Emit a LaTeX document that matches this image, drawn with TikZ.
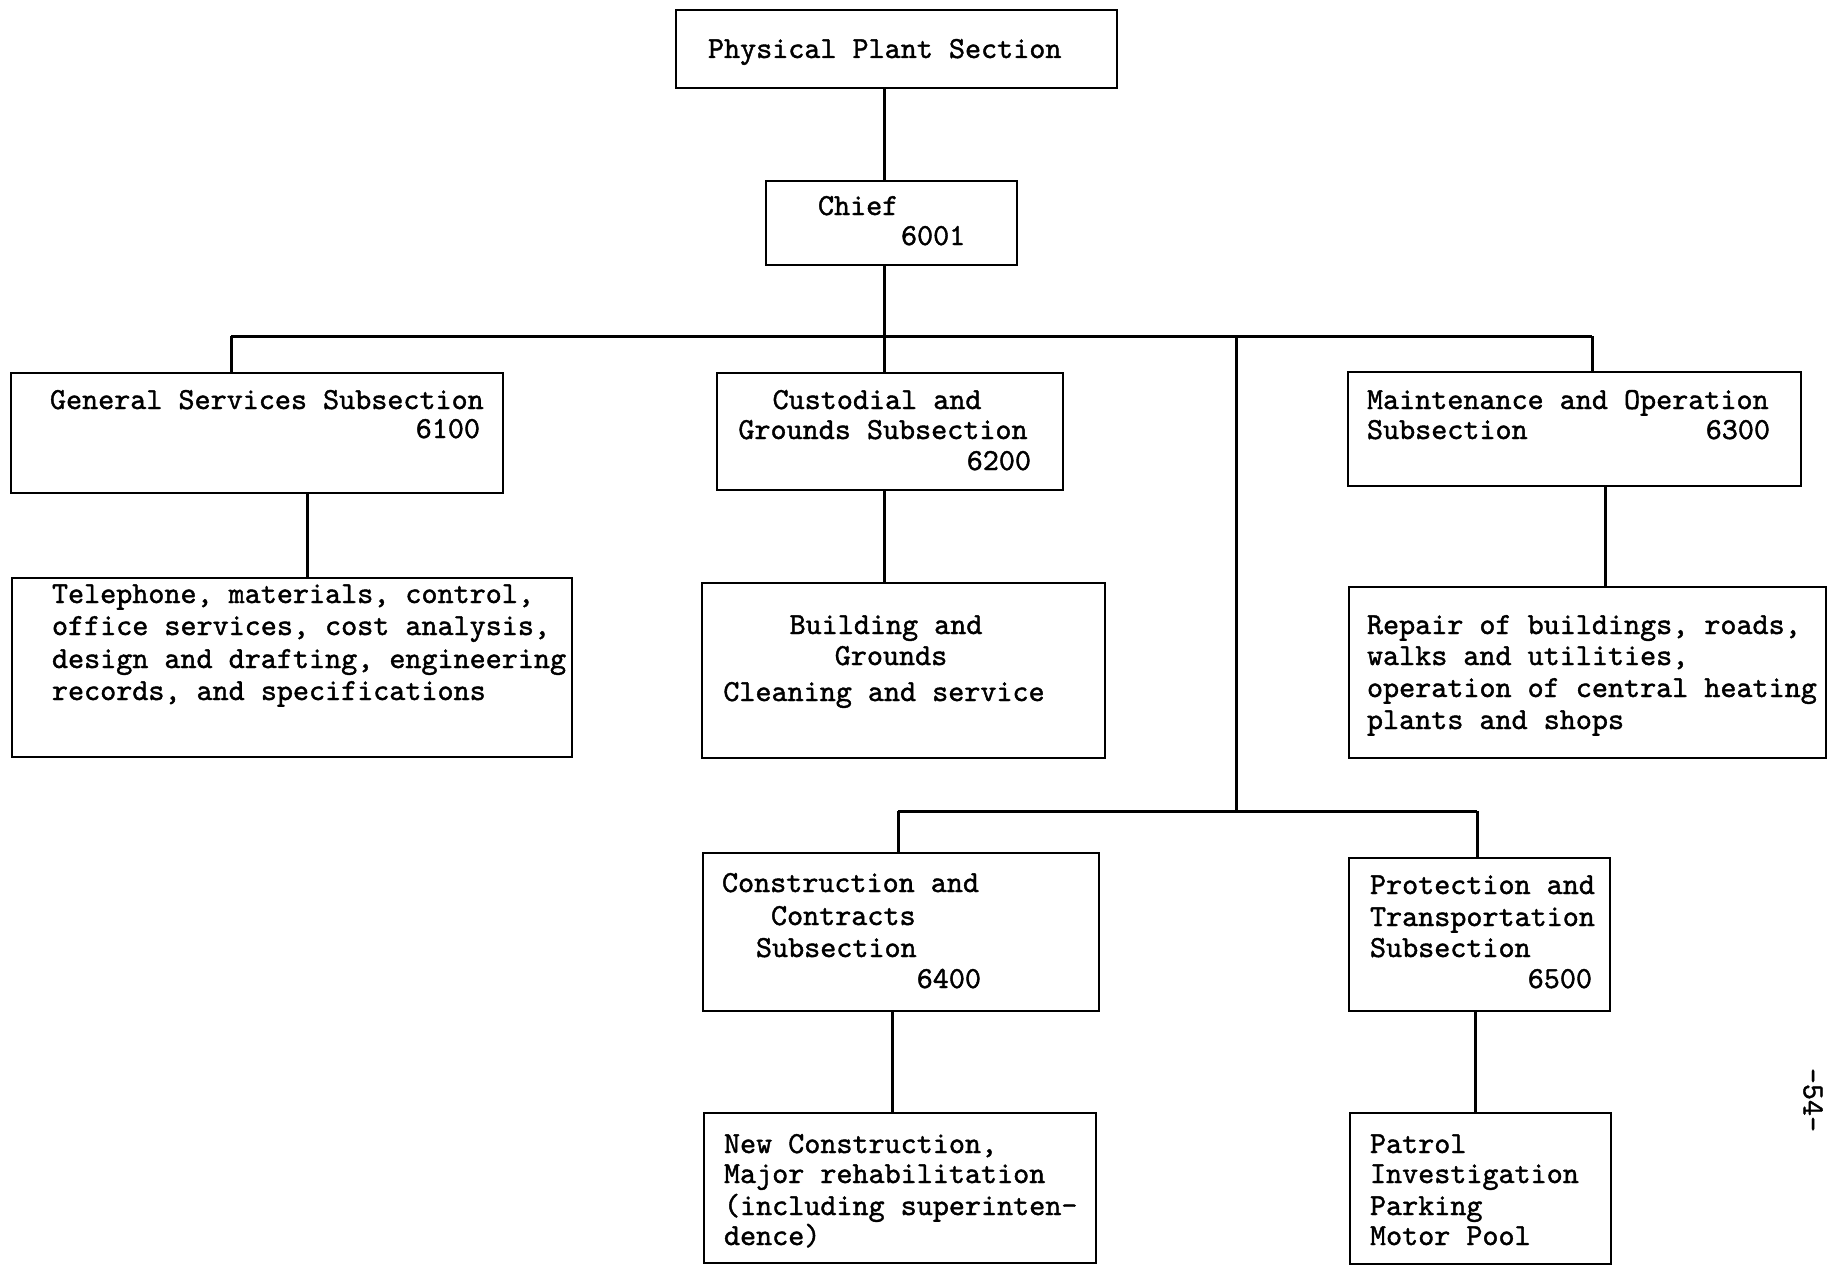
\documentclass[tikz,border=0pt]{standalone}
\usepackage{fontspec}
\newfontfamily\tw[FakeBold=1.3]{lmmono10-regular.otf}
\begin{document}
\begin{tikzpicture}[x=1pt,y=-1pt,
  box/.style={draw, line width=2.8pt, rectangle, inner sep=0pt, outer sep=0pt, anchor=north west},
  txt/.style={inner sep=0pt, outer sep=0pt, font=\tw\fontsize{30.6pt}{32pt}\selectfont},
  link/.style={line width=3pt}]
\useasboundingbox (0,0) rectangle (1828,1268);
\fill[white] (0,0) rectangle (1828,1268);

% boxes
\node[box, minimum width=441pt, minimum height=78pt]  (pps)   at (676,10)   {};
\node[box, minimum width=251pt, minimum height=84pt]  (chief) at (766,181)  {};
\node[box, minimum width=492pt, minimum height=120pt] (gen)   at (11,373)   {};
\node[box, minimum width=560pt, minimum height=179pt] (tel)   at (12,578)   {};
\node[box, minimum width=346pt, minimum height=117pt] (cus)   at (717,373)  {};
\node[box, minimum width=403pt, minimum height=175pt] (bld)   at (702,583)  {};
\node[box, minimum width=453pt, minimum height=114pt] (mnt)   at (1348,372) {};
\node[box, minimum width=477pt, minimum height=171pt] (rep)   at (1349,587) {};
\node[box, minimum width=396pt, minimum height=158pt] (con)   at (703,853)  {};
\node[box, minimum width=392pt, minimum height=150pt] (newc)  at (704,1113) {};
\node[box, minimum width=261pt, minimum height=153pt] (pro)   at (1349,858) {};
\node[box, minimum width=261pt, minimum height=151pt] (pat)   at (1350,1113) {};

% texts
\node[txt, anchor=base west] (pps-t) at (708,58) {Physical Plant Section};
\node[txt, anchor=base west] (chief-t1) at (818,215) {Chief};
\node[txt, anchor=base west] (chief-t2) at (901,245) {6001};

\node[txt, anchor=base west] (gen-t1) at (50,409) {General Services Subsection};
\node[txt, anchor=base east] (gen-t2) at (480,438) {6100};

\node[txt, anchor=base west] (tel-t1) at (52,603) {Telephone, materials, control,};
\node[txt, anchor=base west] (tel-t2) at (52,635) {office services, cost analysis,};
\node[txt, anchor=base west] (tel-t3) at (52,668) {design and drafting, engineering};
\node[txt, anchor=base west] (tel-t4) at (52,700) {records, and specifications};

\node[txt, anchor=base] (cus-t1) at (877,409) {Custodial and};
\node[txt, anchor=base] (cus-t2) at (883,439) {Grounds Subsection};
\node[txt, anchor=base east] (cus-t3) at (1031,470) {6200};

\node[txt, anchor=base] (bld-t1) at (886,634) {Building and};
\node[txt, anchor=base] (bld-t2) at (891,665) {Grounds};
\node[txt, anchor=base] (bld-t3) at (884,701) {Cleaning and service};

\node[txt, anchor=base west] (mnt-t1) at (1367,409) {Maintenance and Operation};
\node[txt, anchor=base west] (mnt-t2) at (1367,439) {Subsection};
\node[txt, anchor=base east] (mnt-t3) at (1770,439) {6300};

\node[txt, anchor=base west] (rep-t1) at (1367,634) {Repair of buildings, roads,};
\node[txt, anchor=base west] (rep-t2) at (1367,665) {walks and utilities,};
\node[txt, anchor=base west] (rep-t3) at (1367,697) {operation of central heating};
\node[txt, anchor=base west] (rep-t4) at (1367,729) {plants and shops};

\node[txt, anchor=base west] (con-t1) at (722,892) {Construction and};
\node[txt, anchor=base west] (con-t2) at (771,925) {Contracts};
\node[txt, anchor=base west] (con-t3) at (756,957) {Subsection};
\node[txt, anchor=base east] (con-t4) at (981,988) {6400};

\node[txt, anchor=base west] (newc-t1) at (724,1153) {New Construction,};
\node[txt, anchor=base west] (newc-t2) at (724,1183) {Major rehabilitation};
\node[txt, anchor=base west] (newc-t3) at (724,1215) {(including superinten-};
\node[txt, anchor=base west] (newc-t4) at (724,1245) {dence)};

\node[txt, anchor=base west] (pro-t1) at (1370,894) {Protection and};
\node[txt, anchor=base west] (pro-t2) at (1370,926) {Transportation};
\node[txt, anchor=base west] (pro-t3) at (1370,957) {Subsection};
\node[txt, anchor=base east] (pro-t4) at (1592,988) {6500};

\node[txt, anchor=base west] (pat-t1) at (1370,1153) {Patrol};
\node[txt, anchor=base west] (pat-t2) at (1370,1183) {Investigation};
\node[txt, anchor=base west] (pat-t3) at (1370,1215) {Parking};
\node[txt, anchor=base west] (pat-t4) at (1370,1245) {Motor Pool};

\node[txt, rotate=-90] (page) at (1813,1100) {-54-};

% connector coordinates
\coordinate (xc) at (884,0);
\coordinate (busy) at (0,336);
\coordinate (xgen) at (231,0);
\coordinate (xmnt) at (1592,0);
\coordinate (xmid) at (1236,0);
\coordinate (bus2y) at (0,811);
\coordinate (xcon) at (898,0);
\coordinate (xpro) at (1477,0);
\coordinate (xtel) at (307,0);
\coordinate (xrep) at (1605,0);
\coordinate (xnew) at (892,0);
\coordinate (xpat) at (1475,0);

\coordinate (bL) at (xgen |- busy);
\coordinate (bR) at (xmnt |- busy);
\coordinate (bM) at (xmid |- busy);
\coordinate (b2M) at (xmid |- bus2y);
\coordinate (b2L) at (xcon |- bus2y);
\coordinate (b2R) at (xpro |- bus2y);

% connectors
\draw[link] (pps.south -| xc) -- (chief.north -| xc);
\draw[link] (chief.south -| xc) -- (cus.north -| xc);
\draw[link] (bL) -- (bR);
\draw[link] (bL) -- (gen.north -| xgen);
\draw[link] (bR) -- (mnt.north -| xmnt);
\draw[link] (bM) -- (b2M);
\draw[link] (b2L) -- (b2R);
\draw[link] (b2L) -- (con.north -| xcon);
\draw[link] (b2R) -- (pro.north -| xpro);
\draw[link] (gen.south -| xtel) -- (tel.north -| xtel);
\draw[link] (cus.south -| xc) -- (bld.north -| xc);
\draw[link] (mnt.south -| xrep) -- (rep.north -| xrep);
\draw[link] (con.south -| xnew) -- (newc.north -| xnew);
\draw[link] (pro.south -| xpat) -- (pat.north -| xpat);
\end{tikzpicture}
\end{document}
